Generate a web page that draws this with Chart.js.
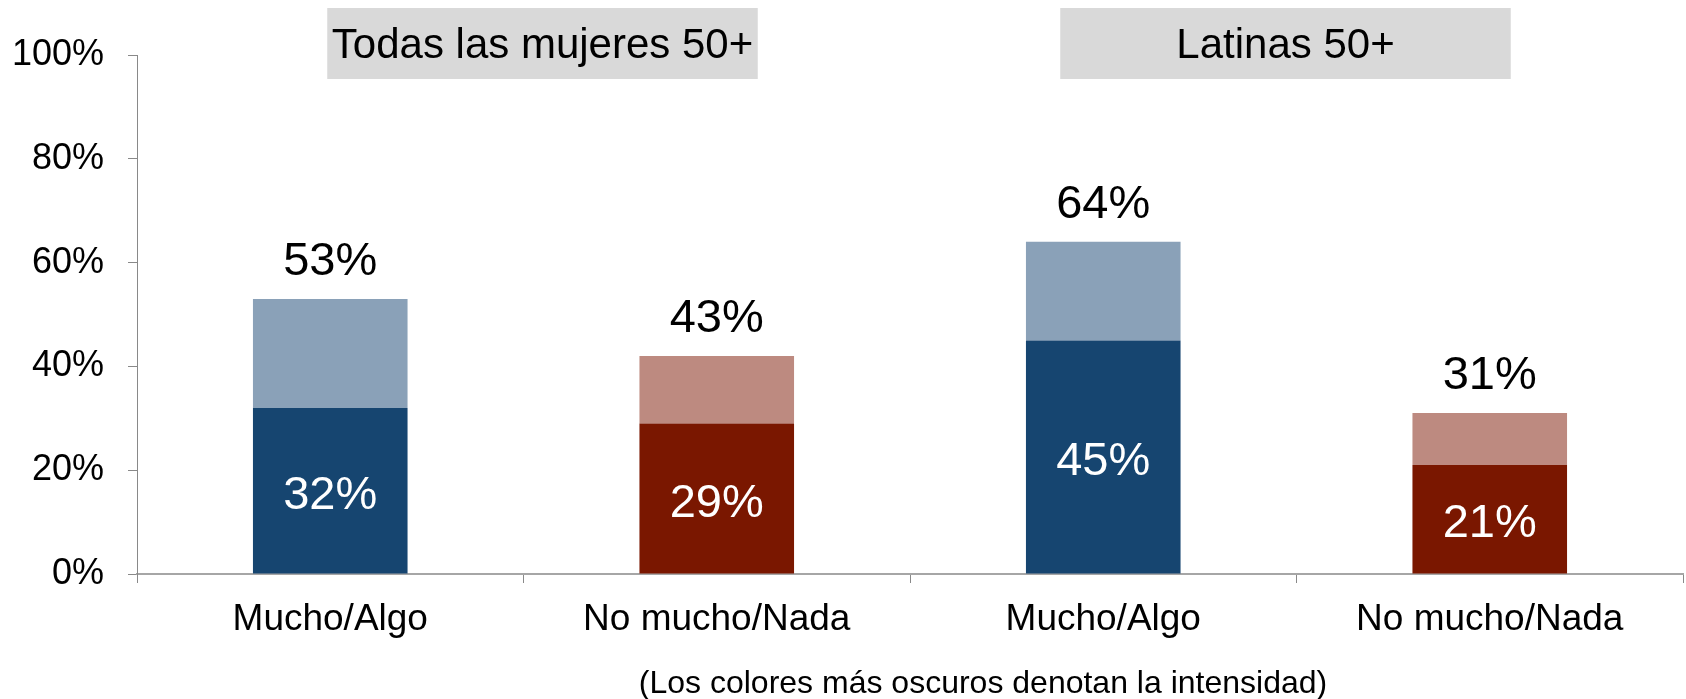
<html>
<head>
<meta charset="utf-8">
<script src="https://cdn.jsdelivr.net/npm/chart.js@4"></script>
<style>
  body { margin:0; background:#fff; }
  #wrap { width:1686px; height:699px; }
</style>
</head>
<body>
<div id="wrap"><canvas id="myChart" width="1686" height="699"></canvas></div>
<script>
// data
var categories = ['Mucho/Algo', 'No mucho/Nada', 'Mucho/Algo', 'No mucho/Nada'];
var intense = [32, 29, 45, 21];       // darker part
var rest = [21, 13, 19, 10];          // lighter part on top
var intenseLabels = ['32%', '29%', '45%', '21%'];
var totalLabels = ['53%', '43%', '64%', '31%'];
var groups = ['Todas las mujeres 50+', 'Latinas 50+'];
var yTicks = [0, 20, 40, 60, 80, 100];
var footNote = '(Los colores más oscuros denotan la intensidad)';

var darkColors = ['#164570', '#7A1700', '#164570', '#7A1700'];
var lightColors = ['#8AA1B8', '#BD8A80', '#8AA1B8', '#BD8A80'];
var FONT = "'Liberation Sans', Arial, sans-serif";

// header box edges, offset from the first / second bar centre of each group
var boxOffsets = [[-3, 41], [-43, 21]];

var extras = {
  id: 'extras',
  afterDatasetsDraw: function(chart) {
    var ctx = chart.ctx;
    var x = chart.scales.x, y = chart.scales.y;
    ctx.save();
    ctx.textAlign = 'center';
    ctx.textBaseline = 'middle';
    // labels
    for (var i = 0; i < categories.length; i++) {
      var cx = x.getPixelForValue(i);
      ctx.fillStyle = '#fff';
      ctx.font = '47px ' + FONT;
      ctx.fillText(intenseLabels[i], cx, (y.getPixelForValue(0) + y.getPixelForValue(intense[i])) / 2 + 5);
      ctx.fillStyle = '#000';
      ctx.fillText(totalLabels[i], cx, y.getPixelForValue(intense[i] + rest[i]) - 37);
    }
    // group header boxes
    ctx.font = '42px ' + FONT;
    for (var g = 0; g < groups.length; g++) {
      var left = x.getPixelForValue(g * 2) + boxOffsets[g][0];
      var right = x.getPixelForValue(g * 2 + 1) + boxOffsets[g][1];
      ctx.fillStyle = '#D9D9D9';
      ctx.fillRect(left, 8, right - left, 71);
      ctx.fillStyle = '#000';
      ctx.fillText(groups[g], (left + right) / 2, 46);
    }
    // footnote
    ctx.font = '32px ' + FONT;
    ctx.fillText(footNote, (x.getPixelForValue(1) + x.getPixelForValue(2)) / 2 + 73, 684);
    ctx.restore();
  }
};

var ctx = document.getElementById('myChart').getContext('2d');
var chart = new Chart(ctx, {
  type: 'bar',
  data: {
    labels: categories,
    datasets: [
      { label: 'intensidad', data: intense, backgroundColor: darkColors, categoryPercentage: 0.8, barPercentage: 0.5 },
      { label: 'resto', data: rest, backgroundColor: lightColors, categoryPercentage: 0.8, barPercentage: 0.5 }
    ]
  },
  options: {
    responsive: false,
    animation: false,
    layout: { padding: { top: 55, right: 3, left: 0, bottom: 0 } },
    plugins: { legend: { display: false }, tooltip: { enabled: false } },
    scales: {
      x: {
        stacked: true,
        grid: { offset: true, drawOnChartArea: false, tickLength: 9, color: '#898989', tickWidth: 1 },
        border: { color: '#A6A6A6', width: 2 },
        ticks: { color: '#000', font: { family: FONT, size: 37 }, padding: 15 },
        afterFit: function(s) { s.height = 125; }
      },
      y: {
        stacked: true,
        min: 0, max: 100,
        afterBuildTicks: function(s) { s.ticks = yTicks.map(function(v) { return { value: v }; }); },
        grid: { drawOnChartArea: false, tickLength: 9, color: '#898989' },
        border: { color: '#898989', width: 1 },
        ticks: { color: '#000', font: { family: FONT, size: 36 }, padding: 24,
                 callback: function(v) { return v + '%'; } },
        afterFit: function(s) { s.width = 137; }
      }
    }
  },
  plugins: [extras]
});
</script>
</body>
</html>
